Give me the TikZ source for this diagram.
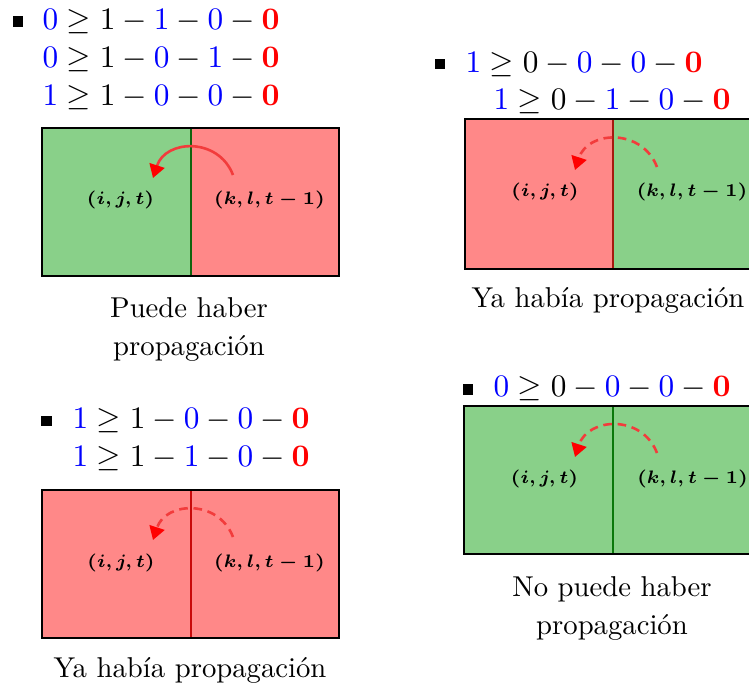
\RequirePackage{fix-cm}
\documentclass[tikz,border=0pt]{standalone}
\usepackage{amsmath,amssymb}
\usepackage{xcolor}
\usetikzlibrary{arrows.meta}

\definecolor{cellgreen}{RGB}{137,208,137}
\definecolor{cellred}{RGB}{255,136,136}
\definecolor{divgreen}{RGB}{15,100,15}
\definecolor{divgreenb}{RGB}{10,120,10}
\definecolor{divred}{RGB}{165,25,15}
\definecolor{divredb}{RGB}{200,10,10}
\definecolor{arrowred}{RGB}{242,60,60}

\newcommand{\bluev}[1]{\textcolor{blue}{#1}}
\newcommand{\redv}[1]{\textcolor{red}{\mathbf{#1}}}

\tikzset{
  eqline/.style={anchor=base west, inner sep=0pt, font=\fontsize{10.9}{13}\selectfont},
  bulletsq/.style={fill=black, minimum size=3.5pt, inner sep=0pt},
  cell/.style={font=\fontsize{6.3}{8}\selectfont\boldmath, inner sep=0pt},
  caption/.style={anchor=north, align=center, inner sep=0pt, font=\fontsize{10}{13.2}\selectfont},
  frame/.style={draw=black, line width=0.75pt},
  divider/.style={line width=0.8pt},
  prop/.style={draw=arrowred, line width=0.9pt, -{Triangle[length=4.6pt,width=5.4pt,fill=red,color=red]}},
  propdash/.style={prop, dash pattern=on 3pt off 2pt}
}

\begin{document}
\begin{tikzpicture}[x=0.3484pt, y=0.3484pt]

\clip (0,0) rectangle (749,-686);

% ---------- Top left: propagation possible ----------
\node[bulletsq] (b1) at (18,-21.5) {};
\node[eqline] (e11) at (42,-30) {$\bluev{0} \geq 1 - \bluev{1} - \bluev{0} - \redv{0}$};
\node[eqline] (e12) at (42,-68) {$\bluev{0} \geq 1 - \bluev{0} - \bluev{1} - \redv{0}$};
\node[eqline] (e13) at (42,-106) {$\bluev{1} \geq 1 - \bluev{0} - \bluev{0} - \redv{0}$};

\fill[cellgreen] (42,-128) rectangle (191,-276);
\fill[cellred] (191,-128) rectangle (339,-276);
\draw[divider, divgreen] (191,-128) -- (191,-276);
\draw[frame] (42,-128) rectangle (339,-276);

\node[cell] (ijt1) at (120.5,-200) {$(i,j,t)$};
\node[cell] (klt1) at (269.5,-200) {$(k,l,t-1)$};
\coordinate (from1) at (233,-175);
\coordinate (to1) at (153,-178);
\draw[prop] (from1) to[out=111,in=72,looseness=1.3] (to1);

\node[caption] (c1) at (189,-297) {Puede haber\\propagación};

% ---------- Top right: already propagated ----------
\node[bulletsq] (b2) at (440,-64) {};
\node[eqline] (e21) at (465,-73) {$\bluev{1} \geq 0 - \bluev{0} - \bluev{0} - \redv{0}$};
\node[eqline] (e22) at (493,-110) {$\bluev{1} \geq 0 - \bluev{1} - \bluev{0} - \redv{0}$};

\fill[cellred] (465,-119) rectangle (613,-269);
\fill[cellgreen] (613,-119) rectangle (762,-269);
\draw[divider, divred] (613,-119) -- (613,-269);
\draw[frame] (465,-119) rectangle (762,-269);

\node[cell] (ijt2) at (545,-192) {$(i,j,t)$};
\node[cell] (klt2) at (692,-192) {$(k,l,t-1)$};
\coordinate (from2) at (657,-167);
\coordinate (to2) at (575,-170);
\draw[propdash] (from2) to[out=111,in=72,looseness=1.3] (to2);

\node[caption] (c2) at (608,-287) {Ya había propagación};

% ---------- Bottom left: already propagated ----------
\node[bulletsq] (b3) at (46.5,-421) {};
\node[eqline] (e31) at (72,-428) {$\bluev{1} \geq 1 - \bluev{0} - \bluev{0} - \redv{0}$};
\node[eqline] (e32) at (72,-467) {$\bluev{1} \geq 1 - \bluev{1} - \bluev{0} - \redv{0}$};

\fill[cellred] (42,-490) rectangle (339,-638);
\draw[divider, divredb] (191,-490) -- (191,-638);
\draw[frame] (42,-490) rectangle (339,-638);

\node[cell] (ijt3) at (121,-563) {$(i,j,t)$};
\node[cell] (klt3) at (269.5,-563) {$(k,l,t-1)$};
\coordinate (from3) at (233,-537);
\coordinate (to3) at (153,-540);
\draw[propdash] (from3) to[out=111,in=72,looseness=1.3] (to3);

\node[caption] (c3) at (190,-657) {Ya había propagación};

% ---------- Bottom right: no propagation ----------
\node[bulletsq] (b4) at (468,-389.5) {};
\node[eqline] (e41) at (493,-397) {$\bluev{0} \geq 0 - \bluev{0} - \bluev{0} - \redv{0}$};

\fill[cellgreen] (464,-406) rectangle (761,-554);
\draw[divider, divgreenb] (613,-406) -- (613,-554);
\draw[frame] (464,-406) rectangle (761,-554);

\node[cell] (ijt4) at (544.5,-479) {$(i,j,t)$};
\node[cell] (klt4) at (692.5,-479) {$(k,l,t-1)$};
\coordinate (from4) at (657,-453);
\coordinate (to4) at (575,-457);
\draw[propdash] (from4) to[out=111,in=72,looseness=1.3] (to4);

\node[caption] (c4) at (612,-576) {No puede haber\\propagación};

\end{tikzpicture}
\end{document}
